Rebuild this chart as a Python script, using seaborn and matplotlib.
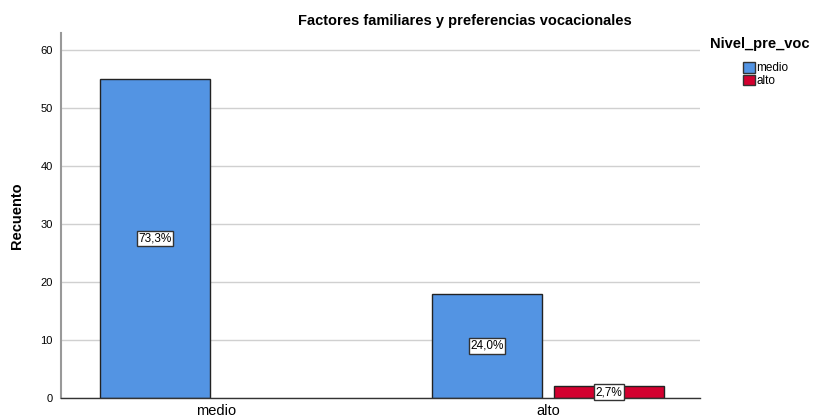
import pandas as pd
import matplotlib
matplotlib.use('Agg')
import matplotlib.pyplot as plt
import seaborn as sns
from matplotlib.patches import Patch

# Datos
factor = ['medio', 'alto', 'alto']
nivel = ['medio', 'medio', 'alto']
recuento = [55, 18, 2]
porcentajes = ['73,3%', '24,0%', '2,7%']
orden_x = ['medio', 'alto']
orden_hue = ['medio', 'alto']
colores = {'medio': '#5394E3', 'alto': '#D3002F'}

df = pd.DataFrame({'factor': factor, 'nivel': nivel, 'recuento': recuento, 'pct': porcentajes})

sns.set_style('white')
plt.rcParams['font.family'] = ['Liberation Sans', 'DejaVu Sans']
plt.rcParams['text.color'] = 'black'
plt.rcParams['axes.labelcolor'] = 'black'
plt.rcParams['xtick.color'] = 'black'
plt.rcParams['ytick.color'] = 'black'

fig, ax = plt.subplots(figsize=(8.34, 4.19), dpi=100)
fig.subplots_adjust(left=61/834, right=700/834, top=1-33/419, bottom=1-398/419)

ax.yaxis.grid(True, color='#d0d0d0', linewidth=1)
ax.set_axisbelow(True)

sns.barplot(data=df, x='factor', y='recuento', hue='nivel', order=orden_x,
            hue_order=orden_hue, palette=colores, width=0.735, gap=0.1,
            edgecolor='#222222', linewidth=1, saturation=1, ax=ax, legend=False)

# Etiquetas de porcentaje dentro de las barras
for cont, lvl in zip(ax.containers, orden_hue):
    sub = df[df['nivel'] == lvl]
    for bar in cont:
        h = bar.get_height()
        if not h or h != h:
            continue
        lab = sub[sub['recuento'] == h]['pct'].iloc[0]
        ax.text(bar.get_x() + bar.get_width() / 2, h / 2, lab, ha='center', va='center',
                fontsize=8.5, bbox=dict(boxstyle='square,pad=0.15', fc='white', ec='#333333', lw=1))

ax.set_ylim(0, 63)
ax.set_xlim(-0.467, 1.458)
ax.set_yticks([0, 10, 20, 30, 40, 50, 60])
ax.tick_params(axis='y', labelsize=8, length=4, color='#999999', pad=2)
ax.tick_params(axis='x', labelsize=10.5, length=0, pad=4)
ax.set_xlabel('')
ax.set_ylabel('Recuento', fontsize=10.5, fontweight='bold')
ax.yaxis.set_label_coords(-37/639, 0.5)

for s in ['top', 'right']:
    ax.spines[s].set_visible(False)
ax.spines['left'].set_color('#999999')
ax.spines['left'].set_linewidth(1.5)
ax.spines['bottom'].set_color('#333333')
ax.spines['bottom'].set_linewidth(1)

fig.text(465/834, 1 - 21/419, 'Factores familiares y preferencias vocacionales',
         ha='center', va='center', fontsize=10.5, fontweight='bold')

# Leyenda
fig.text(710/834, 1 - 44/419, 'Nivel_pre_voc', ha='left', va='center',
         fontsize=10.5, fontweight='bold')
handles = [Patch(facecolor=colores[k], edgecolor='#333333', label=k) for k in orden_hue]
leg = fig.legend(handles=handles, loc='upper left',
                 bbox_to_anchor=(743/834, 1 - 62/419), frameon=False, fontsize=8.5,
                 handlelength=1.0, handleheight=1.0, handletextpad=0.15,
                 labelspacing=0.05, borderpad=0, borderaxespad=0)

plt.savefig('out.png', dpi=100)
